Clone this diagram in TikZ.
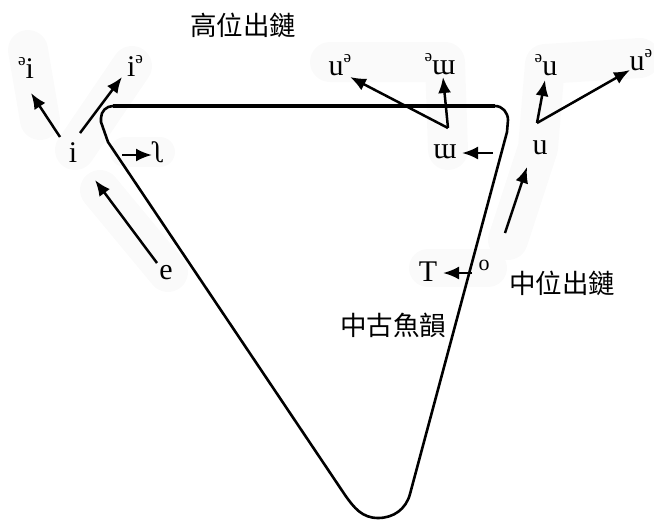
\documentclass[tikz,border=0pt]{standalone}
\usepackage{fontspec}
\setmainfont{Liberation Serif}
\newfontfamily\cjk{Noto Sans CJK TC}
\usetikzlibrary{arrows.meta}
\tikzset{
 ipa/.style={font=\fontsize{30}{30}\selectfont, inner sep=0pt},
 zh/.style={font=\cjk\fontsize{26.5}{26.5}\selectfont, inner sep=0pt},
 arr/.style={line width=2.5pt, -{Latex[length=16pt,width=13pt]}},
 tri/.style={line width=2.6pt, line join=round},
 blob/.style={line width=40pt, line cap=round, line join=round, draw=black!2},
}
\newcommand\sw{\raisebox{0.42em}{\fontsize{17}{17}\selectfont ə}}
\begin{document}
\begin{tikzpicture}[x=1pt,y=-1pt]
\useasboundingbox (0,0) rectangle (654,520);
% faint background smudges
\draw[blob] (28,50) -- (40,120);
\draw[blob] (100,190) -- (168,272);
\draw[blob] (75,150) -- (132,66);
\draw[blob,line width=30pt] (125,152) -- (160,152);
\draw[blob] (330,62) -- (445,62) -- (448,150);
\draw[blob] (640,58) -- (545,64) -- (538,148) -- (508,240);
\draw[blob,line width=38pt] (428,268) -- (488,268);
% triangle
\draw[tri] (108,142) -- (101,122) -- (101,118) to[out=90,in=180] (113,106) -- (495,106) to[out=0,in=90] (508,120) -- (507,132) -- (410,494) to[out=-105,in=0] (378,518) to[out=180,in=-55] (345,495) -- cycle;
\draw[line width=3.4pt] (113,106) -- (495,106);
% labels
\node[zh] (hi) at (243,25) {高位出鏈};
\node[zh] (mid) at (562,283) {中位出鏈};
\node[zh] (yu) at (393,325) {中古魚韻};
\node[ipa] (si) at (26,68) {\sw i};
\node[ipa] (is) at (135,66) {i\sw};
\node[ipa] (i) at (73,153) {i};
\node[ipa] (r) at (159,152) {ʅ};
\node[ipa] (e) at (166,273) {e};
\node[ipa] (us1) at (340,65) {u\sw};
\node[ipa] (sw1) at (440,64) {\sw ɯ};
\node[ipa] (w) at (445,152) {ɯ};
\node[ipa] (su) at (546,65) {\sw u};
\node[ipa] (us2) at (641,60) {u\sw};
\node[ipa] (u) at (540,148) {u};
\node[ipa] (T) at (428,272) {T};
\node[inner sep=0pt,font=\fontsize{22}{22}\selectfont] (o) at (484,265) {o};
% arrow ends
\coordinate (a1t) at (60,137); \coordinate (a1h) at (31,93);
\coordinate (a2t) at (80,133); \coordinate (a2h) at (122,77);
\coordinate (a3t) at (157,263); \coordinate (a3h) at (95,180);
\coordinate (a4t) at (122,155); \coordinate (a4h) at (152,155);
\coordinate (wt) at (448,128); \coordinate (a5h) at (350,77); \coordinate (a6h) at (443,77);
\coordinate (a7t) at (493,153); \coordinate (a7h) at (462,153);
\coordinate (ut) at (537,123); \coordinate (a8h) at (545,80); \coordinate (a9h) at (630,70);
\coordinate (a10t) at (505,233); \coordinate (a10h) at (527,167);
\coordinate (a11t) at (472,273); \coordinate (a11h) at (443,273);
\draw[arr] (a1t) -- (a1h);
\draw[arr] (a2t) -- (a2h);
\draw[arr] (a3t) -- (a3h);
\draw[arr] (a4t) -- (a4h);
\draw[arr] (wt) -- (a5h);
\draw[arr] (wt) -- (a6h);
\draw[arr] (a7t) -- (a7h);
\draw[arr] (ut) -- (a8h);
\draw[arr] (ut) -- (a9h);
\draw[arr] (a10t) -- (a10h);
\draw[arr] (a11t) -- (a11h);
\end{tikzpicture}
\end{document}
